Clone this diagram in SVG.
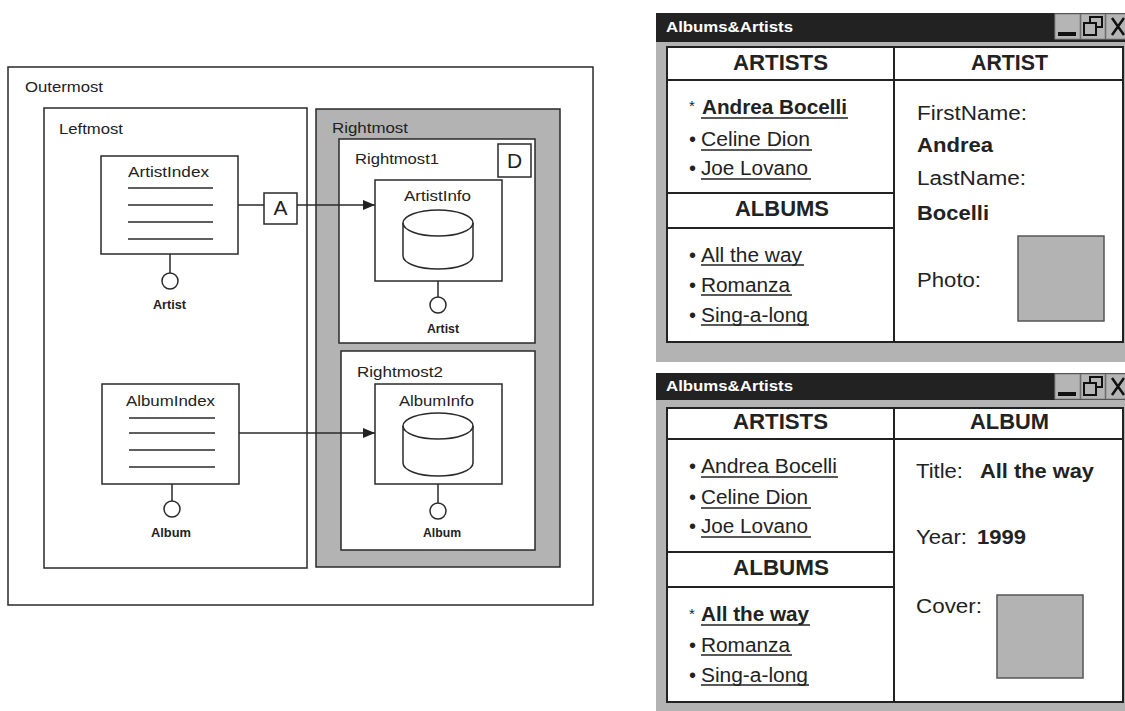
<svg xmlns="http://www.w3.org/2000/svg" width="1125" height="711" viewBox="0 0 1125 711">
<style>
.box{fill:#fff;stroke:#2a2a2a;stroke-width:1.5}
.gray{fill:#b3b3b3;stroke:#2a2a2a;stroke-width:1.5}
.ln{stroke:#2a2a2a;stroke-width:1.5;fill:none}
.lbl{font-family:"Liberation Sans",Arial,sans-serif;font-size:15px;fill:#222}
.sm{font-family:"Liberation Sans",Arial,sans-serif;font-size:12px;font-weight:bold;fill:#222}
.big{font-family:"Liberation Sans",Arial,sans-serif;font-size:21px;fill:#222}
.hd{font-family:"Liberation Sans",Arial,sans-serif;font-size:22px;font-weight:bold;fill:#222}
.it{font-family:"Liberation Sans",Arial,sans-serif;font-size:20px;fill:#222}
.itb{font-family:"Liberation Sans",Arial,sans-serif;font-size:20px;font-weight:bold;fill:#222}
.ttl{font-family:"Liberation Sans",Arial,sans-serif;font-size:15px;font-weight:bold;fill:#fff}
.ul{stroke:#222;stroke-width:1.5}
.pn{fill:#fff;stroke:#222;stroke-width:2}
.frm{fill:#b3b3b3}
.bar{fill:#222}
.btn{fill:#b5b5b5;stroke:#888;stroke-width:1}
.pic{fill:#b3b3b3;stroke:#555;stroke-width:1.5}
</style>
<defs>
<marker id="arr" viewBox="0 0 12 10" refX="12" refY="5" markerWidth="12" markerHeight="10" markerUnits="userSpaceOnUse" orient="auto">
<path d="M0,0 L12,5 L0,10 z" fill="#222"/>
</marker>
</defs>

<g id="outermost">
<rect class="box" x="8" y="67" width="585" height="538"/>
<text class="lbl" x="25" y="92" textLength="78" lengthAdjust="spacingAndGlyphs">Outermost</text>
</g>
<g id="leftmost">
<rect class="box" x="44" y="108" width="263" height="460"/>
<text class="lbl" x="59" y="134" textLength="64" lengthAdjust="spacingAndGlyphs">Leftmost</text>
</g>
<g id="rightmost">
<rect class="gray" x="316" y="109" width="244" height="458"/>
<text class="lbl" x="332" y="133" textLength="76" lengthAdjust="spacingAndGlyphs">Rightmost</text>
</g>
<g id="rightmost1">
<rect class="box" x="339" y="139" width="196" height="204"/>
<text class="lbl" x="355" y="164" textLength="84" lengthAdjust="spacingAndGlyphs">Rightmost1</text>
<rect class="box" x="498" y="144" width="33" height="33"/>
<text class="big" x="514.5" y="168" text-anchor="middle">D</text>
</g>
<g id="rightmost2">
<rect class="box" x="341" y="351" width="194" height="199"/>
<text class="lbl" x="357" y="377" textLength="86" lengthAdjust="spacingAndGlyphs">Rightmost2</text>
</g>

<g id="artistindex">
<rect class="box" x="101" y="156" width="137" height="98"/>
<text class="lbl" x="128" y="177" textLength="81" lengthAdjust="spacingAndGlyphs">ArtistIndex</text>
<line class="ln" x1="128" y1="188" x2="213" y2="188"/>
<line class="ln" x1="128" y1="205" x2="213" y2="205"/>
<line class="ln" x1="128" y1="222" x2="213" y2="222"/>
<line class="ln" x1="128" y1="239" x2="213" y2="239"/>
<line class="ln" x1="170" y1="254" x2="170" y2="273"/>
<circle class="box" cx="170" cy="281" r="8"/>
<text class="sm" x="153" y="309" textLength="33" lengthAdjust="spacingAndGlyphs">Artist</text>
</g>

<g id="albumindex">
<rect class="box" x="102" y="384" width="137" height="100"/>
<text class="lbl" x="126" y="406" textLength="89" lengthAdjust="spacingAndGlyphs">AlbumIndex</text>
<line class="ln" x1="129" y1="418" x2="215" y2="418"/>
<line class="ln" x1="129" y1="433" x2="215" y2="433"/>
<line class="ln" x1="129" y1="450" x2="215" y2="450"/>
<line class="ln" x1="129" y1="467" x2="215" y2="467"/>
<line class="ln" x1="172" y1="484" x2="172" y2="501"/>
<circle class="box" cx="172" cy="509" r="8"/>
<text class="sm" x="151" y="537" textLength="40" lengthAdjust="spacingAndGlyphs">Album</text>
</g>

<g id="artistinfo">
<rect class="box" x="375" y="180" width="127" height="101"/>
<text class="lbl" x="404" y="201" textLength="67" lengthAdjust="spacingAndGlyphs">ArtistInfo</text>
<path class="ln" d="M403,223 L403,256 A35,13 0 0 0 473,256 L473,223"/>
<ellipse class="ln" cx="438" cy="223" rx="35" ry="13"/>
<line class="ln" x1="438" y1="281" x2="438" y2="297"/>
<circle class="box" cx="438" cy="305" r="8"/>
<text class="sm" x="427" y="333" textLength="32" lengthAdjust="spacingAndGlyphs">Artist</text>
</g>

<g id="albuminfo">
<rect class="box" x="375" y="384" width="127" height="100"/>
<text class="lbl" x="399" y="406" textLength="75" lengthAdjust="spacingAndGlyphs">AlbumInfo</text>
<path class="ln" d="M403,426 L403,463 A35,13 0 0 0 473,463 L473,426"/>
<ellipse class="ln" cx="438" cy="426" rx="35" ry="13"/>
<line class="ln" x1="438" y1="484" x2="438" y2="503"/>
<circle class="box" cx="438" cy="511" r="8"/>
<text class="sm" x="423" y="537" textLength="38" lengthAdjust="spacingAndGlyphs">Album</text>
</g>

<g id="connectors">
<line class="ln" x1="238" y1="205" x2="264" y2="205"/>
<line class="ln" x1="297" y1="205" x2="375" y2="205" marker-end="url(#arr)"/>
<line class="ln" x1="239" y1="433" x2="375" y2="433" marker-end="url(#arr)"/>
</g>
<g id="a-box">
<rect class="box" x="264" y="193" width="33" height="31"/>
<text class="big" x="280.5" y="215" text-anchor="middle">A</text>
</g>

<g id="window1">
<rect class="frm" x="656" y="13" width="469" height="349"/>
<rect class="bar" x="656" y="13" width="469" height="29"/>
<text class="ttl" x="666" y="32" textLength="127" lengthAdjust="spacingAndGlyphs">Albums&amp;Artists</text>
<rect class="btn" x="1055" y="14" width="25" height="25"/>
<rect x="1058" y="32" width="18" height="4" fill="#111"/>
<rect class="btn" x="1081" y="14" width="24" height="25"/>
<rect x="1090" y="17" width="12" height="10" fill="none" stroke="#111" stroke-width="2"/>
<rect x="1084" y="23" width="12" height="12" fill="#b5b5b5" stroke="#111" stroke-width="2"/>
<rect class="btn" x="1106" y="14" width="24" height="25"/>
<path d="M1112,18 L1124,35 M1124,18 L1112,35" stroke="#111" stroke-width="2.5"/>
<rect class="pn" x="667" y="47" width="456" height="295"/>
<line class="ul" x1="667" y1="80" x2="1123" y2="80" style="stroke-width:2"/>
<line class="ul" x1="894" y1="47" x2="894" y2="342" style="stroke-width:2"/>
<line class="ul" x1="667" y1="193" x2="894" y2="193" style="stroke-width:2"/>
<line class="ul" x1="667" y1="228" x2="894" y2="228" style="stroke-width:2"/>
<text class="hd" x="733" y="70" textLength="95" lengthAdjust="spacingAndGlyphs">ARTISTS</text>
<text class="hd" x="971" y="70" textLength="77" lengthAdjust="spacingAndGlyphs">ARTIST</text>
<text class="hd" x="735" y="216" textLength="94" lengthAdjust="spacingAndGlyphs">ALBUMS</text>
<text class="it" x="689" y="111" style="font-size:15px">*</text>
<text class="itb" x="702" y="114" textLength="145" lengthAdjust="spacingAndGlyphs">Andrea Bocelli</text>
<line class="ul" x1="701" y1="118" x2="848" y2="118"/>
<text class="it" x="689" y="146">•</text>
<text class="it" x="701" y="146" textLength="109" lengthAdjust="spacingAndGlyphs">Celine Dion</text>
<line class="ul" x1="701" y1="150" x2="812" y2="150"/>
<text class="it" x="689" y="175">•</text>
<text class="it" x="701" y="175" textLength="107" lengthAdjust="spacingAndGlyphs">Joe Lovano</text>
<line class="ul" x1="701" y1="179" x2="811" y2="179"/>
<text class="it" x="689" y="262">•</text>
<text class="it" x="701" y="262" textLength="101" lengthAdjust="spacingAndGlyphs">All the way</text>
<line class="ul" x1="701" y1="265" x2="804" y2="265"/>
<text class="it" x="689" y="292">•</text>
<text class="it" x="701" y="292" textLength="89" lengthAdjust="spacingAndGlyphs">Romanza</text>
<line class="ul" x1="701" y1="295" x2="792" y2="295"/>
<text class="it" x="689" y="322">•</text>
<text class="it" x="701" y="322" textLength="107" lengthAdjust="spacingAndGlyphs">Sing-a-long</text>
<line class="ul" x1="701" y1="325" x2="809" y2="325"/>
<text class="it" x="917" y="120" textLength="110" lengthAdjust="spacingAndGlyphs">FirstName:</text>
<text class="itb" x="917" y="152" textLength="76" lengthAdjust="spacingAndGlyphs">Andrea</text>
<text class="it" x="917" y="185" textLength="109" lengthAdjust="spacingAndGlyphs">LastName:</text>
<text class="itb" x="917" y="220" textLength="72" lengthAdjust="spacingAndGlyphs">Bocelli</text>
<text class="it" x="917" y="287" textLength="64" lengthAdjust="spacingAndGlyphs">Photo:</text>
<rect class="pic" x="1018" y="236" width="86" height="85"/>
</g>

<g id="window2">
<rect class="frm" x="656" y="373" width="469" height="338"/>
<rect class="bar" x="656" y="373" width="469" height="27"/>
<text class="ttl" x="666" y="391" textLength="127" lengthAdjust="spacingAndGlyphs">Albums&amp;Artists</text>
<rect class="btn" x="1055" y="374" width="25" height="25"/>
<rect x="1058" y="392" width="18" height="4" fill="#111"/>
<rect class="btn" x="1081" y="374" width="24" height="25"/>
<rect x="1090" y="377" width="12" height="10" fill="none" stroke="#111" stroke-width="2"/>
<rect x="1084" y="383" width="12" height="12" fill="#b5b5b5" stroke="#111" stroke-width="2"/>
<rect class="btn" x="1106" y="374" width="24" height="25"/>
<path d="M1112,378 L1124,395 M1124,378 L1112,395" stroke="#111" stroke-width="2.5"/>
<rect class="pn" x="667" y="408" width="456" height="294"/>
<line class="ul" x1="667" y1="439" x2="1123" y2="439" style="stroke-width:2"/>
<line class="ul" x1="894" y1="408" x2="894" y2="702" style="stroke-width:2"/>
<line class="ul" x1="667" y1="552" x2="894" y2="552" style="stroke-width:2"/>
<line class="ul" x1="667" y1="587" x2="894" y2="587" style="stroke-width:2"/>
<text class="hd" x="733" y="429" textLength="95" lengthAdjust="spacingAndGlyphs">ARTISTS</text>
<text class="hd" x="970" y="429" textLength="79" lengthAdjust="spacingAndGlyphs">ALBUM</text>
<text class="hd" x="733" y="575" textLength="96" lengthAdjust="spacingAndGlyphs">ALBUMS</text>
<text class="it" x="689" y="473">•</text>
<text class="it" x="701" y="473" textLength="136" lengthAdjust="spacingAndGlyphs">Andrea Bocelli</text>
<line class="ul" x1="701" y1="477" x2="838" y2="477"/>
<text class="it" x="689" y="504">•</text>
<text class="it" x="701" y="504" textLength="107" lengthAdjust="spacingAndGlyphs">Celine Dion</text>
<line class="ul" x1="701" y1="508" x2="811" y2="508"/>
<text class="it" x="689" y="533">•</text>
<text class="it" x="701" y="533" textLength="107" lengthAdjust="spacingAndGlyphs">Joe Lovano</text>
<line class="ul" x1="701" y1="537" x2="811" y2="537"/>
<text class="it" x="689" y="619" style="font-size:15px">*</text>
<text class="itb" x="701" y="621" textLength="108" lengthAdjust="spacingAndGlyphs">All the way</text>
<line class="ul" x1="701" y1="625" x2="810" y2="625"/>
<text class="it" x="689" y="652">•</text>
<text class="it" x="701" y="652" textLength="89" lengthAdjust="spacingAndGlyphs">Romanza</text>
<line class="ul" x1="701" y1="655" x2="792" y2="655"/>
<text class="it" x="689" y="682">•</text>
<text class="it" x="701" y="682" textLength="107" lengthAdjust="spacingAndGlyphs">Sing-a-long</text>
<line class="ul" x1="701" y1="685" x2="809" y2="685"/>
<text class="it" x="916" y="478" textLength="47" lengthAdjust="spacingAndGlyphs">Title:</text>
<text class="itb" x="980" y="478" textLength="114" lengthAdjust="spacingAndGlyphs">All the way</text>
<text class="it" x="916" y="544" textLength="51" lengthAdjust="spacingAndGlyphs">Year:</text>
<text class="itb" x="977" y="544" textLength="49" lengthAdjust="spacingAndGlyphs">1999</text>
<text class="it" x="916" y="613" textLength="66" lengthAdjust="spacingAndGlyphs">Cover:</text>
<rect class="pic" x="997" y="595" width="86" height="83"/>
</g>
</svg>
